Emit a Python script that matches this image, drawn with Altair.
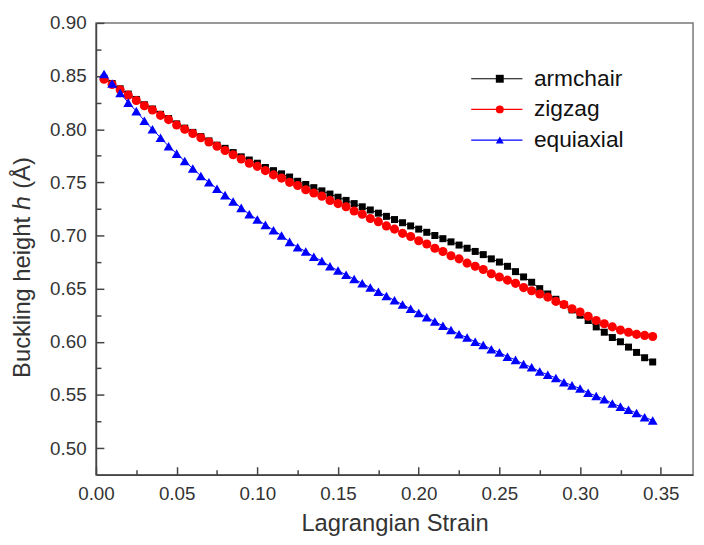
import altair as alt
import pandas as pd

strain = [0.005, 0.010, 0.015, 0.020, 0.025, 0.030, 0.035, 0.040, 0.045, 0.050,
          0.055, 0.060, 0.065, 0.070, 0.075, 0.080, 0.085, 0.090, 0.095, 0.100,
          0.105, 0.110, 0.115, 0.120, 0.125, 0.130, 0.135, 0.140, 0.145, 0.150,
          0.155, 0.160, 0.165, 0.170, 0.175, 0.180, 0.185, 0.190, 0.195, 0.200,
          0.205, 0.210, 0.215, 0.220, 0.225, 0.230, 0.235, 0.240, 0.245, 0.250,
          0.255, 0.260, 0.265, 0.270, 0.275, 0.280, 0.285, 0.290, 0.295, 0.300,
          0.305, 0.310, 0.315, 0.320, 0.325, 0.330, 0.335, 0.340, 0.345]

armchair = [0.848, 0.843, 0.838, 0.833, 0.828, 0.823, 0.819, 0.814, 0.810, 0.805,
            0.801, 0.797, 0.793, 0.789, 0.785, 0.782, 0.778, 0.774, 0.771, 0.768,
            0.764, 0.761, 0.758, 0.755, 0.751, 0.748, 0.745, 0.742, 0.739, 0.736,
            0.733, 0.730, 0.727, 0.724, 0.721, 0.718, 0.715, 0.712, 0.709, 0.706,
            0.703, 0.700, 0.697, 0.694, 0.691, 0.688, 0.685, 0.682, 0.678, 0.675,
            0.671, 0.666, 0.661, 0.656, 0.650, 0.645, 0.640, 0.635, 0.630, 0.625,
            0.620, 0.614, 0.609, 0.604, 0.600, 0.595, 0.590, 0.585, 0.581]

zigzag = [0.847, 0.842, 0.837, 0.832, 0.827, 0.822, 0.818, 0.813, 0.809, 0.804,
          0.800, 0.796, 0.792, 0.788, 0.784, 0.780, 0.776, 0.772, 0.768, 0.765,
          0.761, 0.757, 0.754, 0.750, 0.747, 0.743, 0.740, 0.737, 0.733, 0.730,
          0.727, 0.723, 0.720, 0.716, 0.713, 0.709, 0.706, 0.702, 0.699, 0.695,
          0.692, 0.688, 0.685, 0.681, 0.678, 0.674, 0.671, 0.668, 0.664, 0.661,
          0.658, 0.655, 0.651, 0.648, 0.645, 0.642, 0.638, 0.635, 0.631, 0.628,
          0.624, 0.620, 0.617, 0.614, 0.611, 0.609, 0.607, 0.606, 0.605]

equiaxial = [0.852, 0.843, 0.834, 0.825, 0.817, 0.808, 0.800, 0.792, 0.784, 0.777,
             0.770, 0.763, 0.756, 0.750, 0.744, 0.738, 0.732, 0.726, 0.720, 0.715,
             0.710, 0.705, 0.700, 0.694, 0.689, 0.685, 0.680, 0.676, 0.671, 0.667,
             0.663, 0.659, 0.655, 0.651, 0.647, 0.643, 0.639, 0.635, 0.631, 0.627,
             0.623, 0.619, 0.615, 0.611, 0.607, 0.604, 0.600, 0.597, 0.593, 0.590,
             0.586, 0.583, 0.579, 0.576, 0.572, 0.569, 0.566, 0.562, 0.559, 0.556,
             0.552, 0.549, 0.546, 0.542, 0.539, 0.536, 0.533, 0.529, 0.526]

series_names = ["armchair", "zigzag", "equiaxial"]
series_colors = ["#000000", "#ff0000", "#0000ff"]
marker_shapes = ["square", "circle", "triangle-up"]
marker_sizes = [50, 85, 100]

x_major = [0.00, 0.05, 0.10, 0.15, 0.20, 0.25, 0.30, 0.35]
x_minor = [0.025, 0.075, 0.125, 0.175, 0.225, 0.275, 0.325]
y_major = [0.50, 0.55, 0.60, 0.65, 0.70, 0.75, 0.80, 0.85, 0.90]
y_minor = [0.525, 0.575, 0.625, 0.675, 0.725, 0.775, 0.825, 0.875]

rows = []
for name, vals in zip(series_names, [armchair, zigzag, equiaxial]):
    for s, v in zip(strain, vals):
        rows.append({"strain": s, "h": v, "series": name, "series_line": name + " "})
df = pd.DataFrame(rows)
line_keys = [n + " " for n in series_names]

W, H = 604, 457
FONT = "Liberation Sans"
AX = "#444444"

xscale = alt.Scale(domain=[0, 0.37], nice=False, zero=False)
yscale = alt.Scale(domain=[0.475, 0.90], nice=False, zero=False)

tick_size = {"condition": {"test": "abs(datum.value*20 - round(datum.value*20)) < 0.01", "value": 8}, "value": 5}

x_label_axis = alt.Axis(values=x_major, format=".2f", ticks=False, domain=True,
                        domainColor=AX, domainWidth=1.5, grid=False, labelFlush=False,
                        labelPadding=10, labelFontSize=19, labelFont=FONT, labelColor="#333333",
                        title="Lagrangian Strain", titleFontSize=24, titleFont=FONT,
                        titleFontWeight="normal", titleColor="#333333", titlePadding=8)
y_label_axis = alt.Axis(values=y_major, format=".2f", ticks=False, domain=True,
                        domainColor=AX, domainWidth=1.5, grid=False, labelFlush=False,
                        labelPadding=10, labelFontSize=19, labelFont=FONT, labelColor="#333333",
                        title="Buckling height \u210e (\u00c5)", titleFontSize=24, titleFont=FONT,
                        titleFontWeight="normal", titleColor="#333333", titlePadding=15,
                        titleY=247)
x_tick_axis = alt.Axis(orient="top", offset=-H, values=x_major + x_minor, labels=False,
                       domain=False, ticks=True, tickColor=AX, tickWidth=1.5,
                       tickSize=tick_size, grid=False, title=None)
y_tick_axis = alt.Axis(orient="right", offset=-W, values=y_major + y_minor, labels=False,
                       domain=False, ticks=True, tickColor=AX, tickWidth=1.5,
                       tickSize=tick_size, grid=False, title=None)

line_legend = alt.Legend(orient="none", legendX=394, legendY=45, title=None, padding=0,
                         symbolType="M-3.7,0L3.7,0", symbolSize=196, symbolStrokeWidth=1.2,
                         labelFontSize=23, labelFont=FONT, labelOpacity=0,
                         rowPadding=7, zindex=0)
marker_legend = alt.Legend(orient="none", legendX=397, legendY=45, title=None, padding=0,
                           labelFontSize=23, labelFont=FONT, labelColor="#111111",
                           symbolSize=64, symbolStrokeWidth=0, symbolOpacity=1,
                           labelOffset=23, rowPadding=7, zindex=1)

lines = alt.Chart(df).mark_line(strokeWidth=1).encode(
    x=alt.X("strain:Q", scale=xscale, axis=x_label_axis),
    y=alt.Y("h:Q", scale=yscale, axis=y_label_axis),
    stroke=alt.Stroke("series_line:N", scale=alt.Scale(domain=line_keys, range=series_colors),
                      legend=line_legend),
)

layers = [lines]
for i, (name, col, shp, sz) in enumerate(zip(series_names, series_colors, marker_shapes, marker_sizes)):
    layers.append(
        alt.Chart(df).transform_filter(alt.datum.series == name)
        .mark_point(filled=True, shape=shp, size=sz, opacity=1, color=col)
        .encode(
            x=alt.X("strain:Q", scale=xscale, axis=x_tick_axis if i == 0 else None),
            y=alt.Y("h:Q", scale=yscale, axis=y_tick_axis if i == 0 else None),
        )
    )

legend_layer = alt.Chart(df).mark_point(filled=True, size=64, opacity=0).encode(
    x=alt.X("strain:Q", scale=xscale, axis=None),
    y=alt.Y("h:Q", scale=yscale, axis=None),
    fill=alt.Fill("series:N", scale=alt.Scale(domain=series_names, range=series_colors), legend=marker_legend),
    shape=alt.Shape("series:N", scale=alt.Scale(domain=series_names, range=marker_shapes), legend=marker_legend),
)
layers.append(legend_layer)

chart = alt.layer(*layers).resolve_axis(x="independent", y="independent").properties(
    width=W, height=H,
    autosize=alt.AutoSizeParams(type="none"),
    padding={"left": 89, "top": 12, "right": 3, "bottom": 60},
).configure_view(stroke="#777777", strokeWidth=1.5)

chart.save("out.html", embed_options={"renderer": "svg", "actions": False})
